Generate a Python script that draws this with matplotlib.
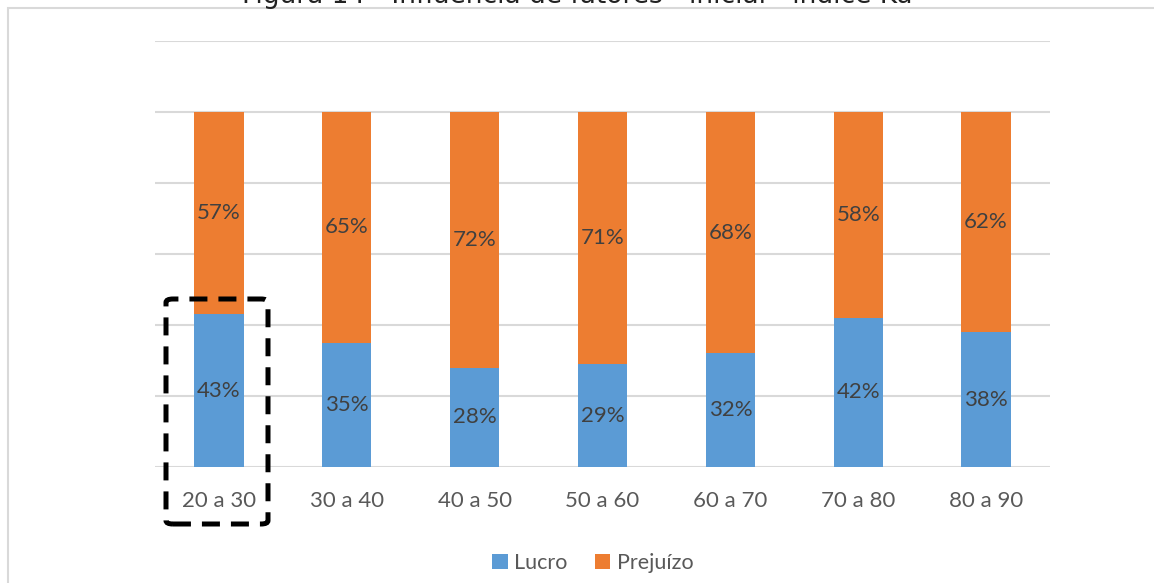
import matplotlib
matplotlib.use("Agg")
import matplotlib.pyplot as plt
from matplotlib.patches import Rectangle, FancyBboxPatch
import numpy as np

categories = ["20 a 30", "30 a 40", "40 a 50", "50 a 60", "60 a 70", "70 a 80", "80 a 90"]
lucro = [43, 35, 28, 29, 32, 42, 38]
prejuizo = [57, 65, 72, 71, 68, 58, 62]
series_names = ["Lucro", "Prejuízo"]
title = "Figura 14 - Influência de fatores - inicial - índice Ku"

blue = "#5B9BD5"
orange = "#ED7D31"

plt.rcParams['font.family'] = ['Lato', 'DejaVu Sans']

W, H = 1154, 583
fig = plt.figure(figsize=(W / 100, H / 100), dpi=100)

# chart border
fig.add_artist(Rectangle((8 / W, -0.05), 1.2, 1 - 8 / H + 0.05, transform=fig.transFigure,
                         fill=False, edgecolor="#d9d9d9", lw=1.5))
fig.text(577 / W, 1 - 3 / H, title, ha="center", va="baseline", fontsize=19,
         color="#222222", family=['DejaVu Sans'])

ax = fig.add_axes([155 / W, 1 - 467 / H, (1050 - 155) / W, (467 - 41) / H])
x = np.arange(len(categories))
width = 0.385
b1 = ax.bar(x, lucro, width, color=blue, label=series_names[0], zorder=3)
b2 = ax.bar(x, prejuizo, width, bottom=lucro, color=orange, label=series_names[1], zorder=3)

for i in range(len(categories)):
    ax.text(x[i], lucro[i] / 2, f"{lucro[i]}%", ha="center", va="center",
            fontsize=16, color="#404040", zorder=4)
    ax.text(x[i], lucro[i] + prejuizo[i] / 2, f"{prejuizo[i]}%", ha="center", va="center",
            fontsize=16, color="#404040", zorder=4)

ax.set_xlim(-0.5, len(categories) - 0.5)
ax.set_ylim(0, 120)
ax.set_yticks(np.arange(0, 121, 20))
ax.yaxis.grid(True, color="#d9d9d9", lw=1.5, zorder=0)
ax.tick_params(axis="y", left=False, labelleft=False)
ax.tick_params(axis="x", bottom=False, labelsize=16, labelcolor="#595959", pad=14)
ax.set_xticks(x)
ax.set_xticklabels(categories)
for s in ax.spines.values():
    s.set_visible(False)

leg = fig.legend(handles=[b1, b2], labels=series_names, loc="center",
                 bbox_to_anchor=(593 / W, 1 - 563 / H), ncol=2, frameon=False,
                 fontsize=15.5, handlelength=0.7, handleheight=0.7, handletextpad=0.3,
                 columnspacing=1.3)
for t in leg.get_texts():
    t.set_color("#595959")

# dashed highlight box
box = FancyBboxPatch((166 / W, 1 - 524 / H), (268 - 166) / W, (524 - 299) / H,
                     boxstyle="round,pad=0,rounding_size=0.006", transform=fig.transFigure,
                     fill=False, edgecolor="black", lw=3.6, linestyle=(0, (3.6, 2.2)))
fig.add_artist(box)

fig.savefig("out.png", dpi=100)
